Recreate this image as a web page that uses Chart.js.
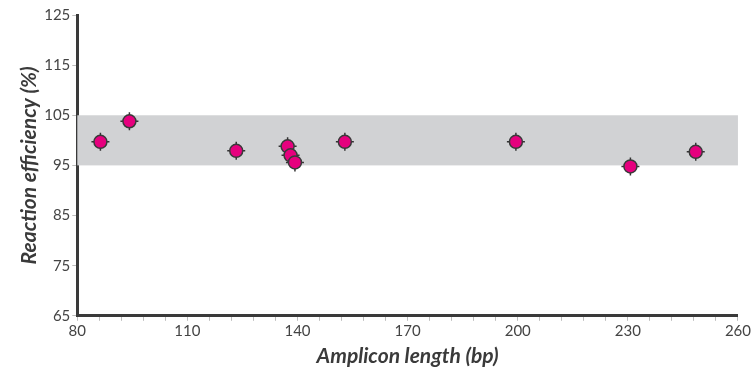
<!DOCTYPE html>
<html>
<head>
<meta charset="utf-8">
<script src="https://cdn.jsdelivr.net/npm/chart.js@4"></script>
<style>
html,body{margin:0;padding:0;background:#fff;}
#wrap{width:752px;height:370px;}
</style>
</head>
<body>
<div id="wrap"><canvas id="c" width="752" height="370"></canvas></div>
<script>
// Data
const ampliconLength = [86.3, 94.2, 123.3, 137.3, 138.1, 139.3, 152.9, 199.5, 230.7, 248.5];
const efficiency     = [99.7, 103.8, 97.9, 98.8, 97.0, 95.6, 99.7, 99.7, 94.8, 97.7];
const bandRange = [95, 105];
const xMajorTicks = [80, 110, 140, 170, 200, 230, 260];
const yTicks = [65, 75, 85, 95, 105, 115, 125];
const xMinorStep = 6;

const points = ampliconLength.map((x, i) => ({x: x, y: efficiency[i]}));

const bandPlugin = {
  id: 'band',
  beforeDatasetsDraw(chart) {
    const {ctx, chartArea, scales} = chart;
    const yTop = scales.y.getPixelForValue(bandRange[1]);
    const yBot = scales.y.getPixelForValue(bandRange[0]);
    ctx.save();
    ctx.fillStyle = '#d1d2d4';
    ctx.fillRect(chartArea.left, yTop, chartArea.right - chartArea.left, yBot - yTop);
    ctx.restore();
  }
};

Chart.defaults.font.family = 'Lato, "Open Sans", sans-serif';
Chart.defaults.color = '#444';

new Chart(document.getElementById('c'), {
  type: 'scatter',
  data: {
    datasets: [
      {
        data: points,
        pointStyle: 'circle',
        pointRadius: 6.5,
        pointBackgroundColor: '#e6007e',
        pointBorderColor: '#3a3a3a',
        pointBorderWidth: 1.5,
        pointHoverRadius: 6.5
      },
      {
        data: points,
        pointStyle: 'cross',
        pointRadius: 9,
        pointBorderColor: '#333',
        pointBorderWidth: 1.5,
        pointHoverRadius: 9
      }
    ]
  },
  options: {
    responsive: false,
    animation: false,
    layout: {padding: {top: 15, right: 13, left: 17, bottom: 1}},
    plugins: {legend: {display: false}, tooltip: {enabled: false}},
    scales: {
      x: {
        type: 'linear',
        min: xMajorTicks[0],
        max: xMajorTicks[xMajorTicks.length - 1],
        afterBuildTicks(axis) {
          const t = [];
          for (let v = axis.min; v <= axis.max + 1e-9; v += xMinorStep) t.push({value: v});
          axis.ticks = t;
        },
        ticks: {
          autoSkip: false,
          maxRotation: 0,
          padding: 1,
          font: {size: 15},
          color: '#444',
          callback: (v) => xMajorTicks.includes(v) ? String(v) : ''
        },
        grid: {display: true, drawOnChartArea: false, drawTicks: true, tickLength: 5, tickColor: '#bdbdbd'},
        border: {color: '#3a3a3a', width: 3},
        title: {display: true, text: 'Amplicon length (bp)', font: {size: 21, style: 'italic', weight: 'bold'}, color: '#3a3a3a', padding: {top: 3, bottom: 0}}
      },
      y: {
        type: 'linear',
        min: yTicks[0],
        max: yTicks[yTicks.length - 1],
        afterBuildTicks(axis) { axis.ticks = yTicks.map(v => ({value: v})); },
        ticks: {font: {size: 15}, color: '#444', padding: 2},
        grid: {display: true, drawOnChartArea: false, drawTicks: true, tickLength: 5, tickColor: '#bdbdbd'},
        border: {color: '#3a3a3a', width: 3},
        title: {display: true, text: 'Reaction efficiency (%)', font: {size: 21, style: 'italic', weight: 'bold'}, color: '#3a3a3a', padding: {top: 0, bottom: 0}}
      }
    }
  },
  plugins: [bandPlugin]
});
</script>
</body>
</html>
